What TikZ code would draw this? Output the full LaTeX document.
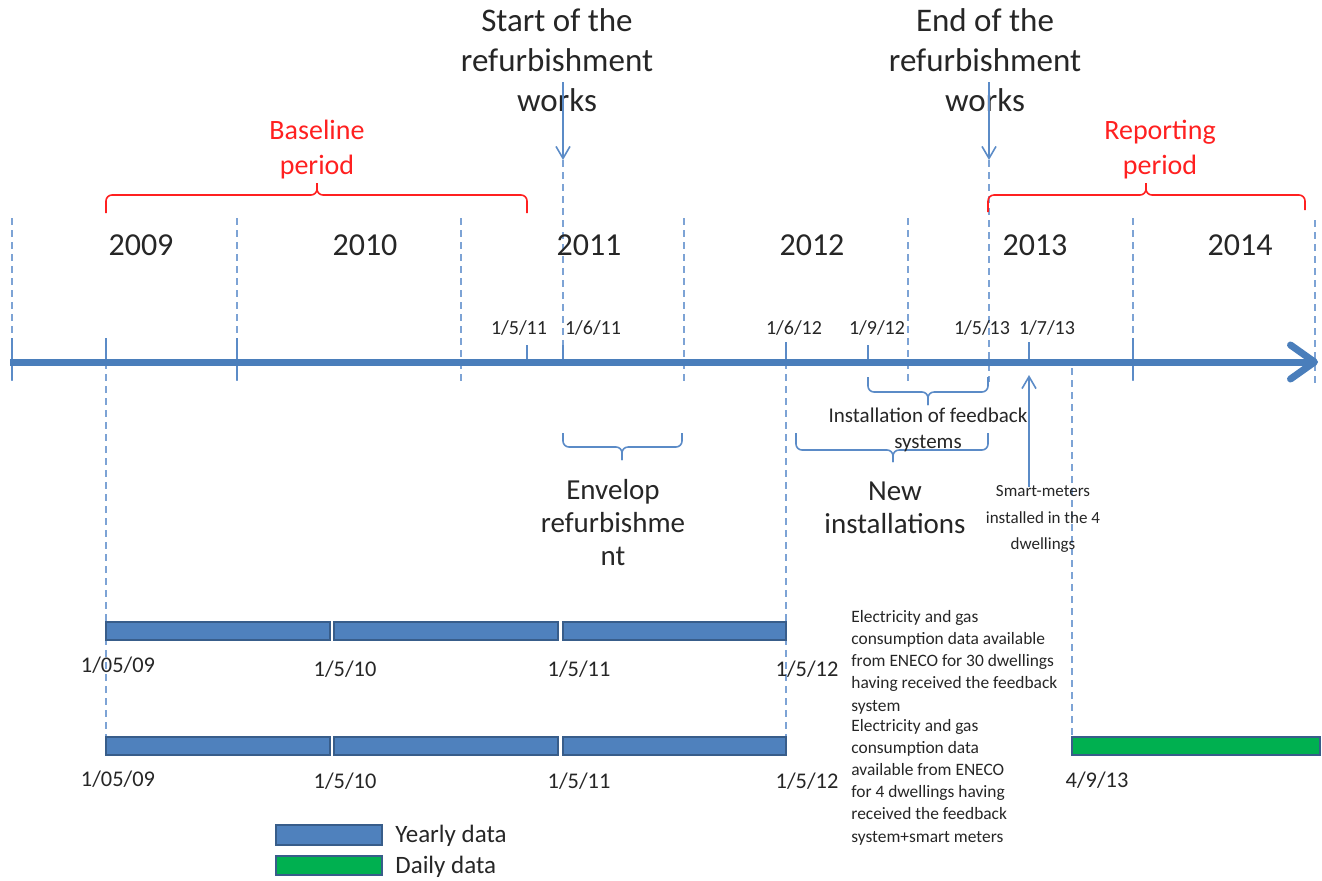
\documentclass[tikz,border=0pt]{standalone}
\usepackage{fontspec}
\setmainfont{Carlito}
\usetikzlibrary{arrows.meta}
\definecolor{axisblue}{HTML}{4A7EBB}
\definecolor{lineblue}{HTML}{5B8BC7}
\definecolor{gridblue}{HTML}{7DA3D5}
\definecolor{barblue}{HTML}{4F81BD}
\definecolor{barborder}{HTML}{385D8A}
\definecolor{bargreen}{HTML}{00B050}
\definecolor{periodred}{HTML}{FF2020}
\definecolor{txt}{HTML}{262626}

\begin{document}
\begin{tikzpicture}[
  x=0.5pt, y=-0.5pt,
  timeaxis/.style={draw=axisblue, line width=3.5pt,
    -{Straight Barb[round, length=12pt, width=17pt]}},
  yearline/.style={draw=gridblue, line width=0.8pt, dash pattern=on 3.5pt off 2.5pt},
  datetick/.style={draw=lineblue, line width=0.8pt},
  pointer/.style={draw=lineblue, line width=0.8pt, -{Straight Barb[length=6pt, width=7pt]}},
  bluebrace/.style={draw=lineblue, line width=0.8pt, rounded corners=3pt},
  redbrace/.style={draw=periodred, line width=0.8pt, rounded corners=3pt},
  yearbar/.style={fill=barblue, draw=barborder, line width=0.6pt},
  daybar/.style={fill=bargreen, draw=barborder, line width=0.6pt},
  event/.style={text=txt, align=center, inner sep=0pt, font=\fontsize{16.5}{20}\selectfont},
  year/.style={text=txt, inner sep=0pt, font=\fontsize{16}{19}\selectfont},
  period/.style={text=periodred, align=center, inner sep=0pt, font=\fontsize{14}{17.5}\selectfont},
  date/.style={text=txt, inner sep=0pt, font=\fontsize{10}{12}\selectfont},
  phase/.style={text=txt, align=center, inner sep=0pt, font=\fontsize{14.5}{16.5}\selectfont},
  remark/.style={text=txt, align=center, inner sep=0pt, font=\fontsize{10.5}{13}\selectfont},
  smartlbl/.style={text=txt, align=center, inner sep=0pt, font=\fontsize{8.5}{13.2}\selectfont},
  bardate/.style={text=txt, inner sep=0pt, font=\fontsize{11.2}{14}\selectfont},
  source/.style={text=txt, align=left, inner sep=0pt, anchor=west, font=\fontsize{8.7}{11.1}\selectfont},
  legendtxt/.style={text=txt, inner sep=0pt, anchor=west, font=\fontsize{12.5}{15}\selectfont}
]
\useasboundingbox (0,0) rectangle (1322,880);

% Year boundaries
\draw[yearline] (12,218) -- (12,382);
\draw[yearline] (237,218) -- (237,382);
\draw[yearline] (461,218) -- (461,382);
\draw[yearline] (684,218) -- (684,382);
\draw[yearline] (908,218) -- (908,382);
\draw[yearline] (1133,218) -- (1133,382);
\draw[yearline] (1315,220) -- (1315,385);
\draw[datetick] (12,338) -- (12,380);
\draw[datetick] (237,338) -- (237,380);
\draw[datetick] (1133,338) -- (1133,380);

% Dashed guides down to the data bars
\draw[yearline] (106,362) -- (106,740);
\draw[yearline] (786,362) -- (786,740);
\draw[yearline] (1072,368) -- (1072,737);

% Event labels and their arrows
\node[event] (startlbl) at (557,60) {Start of the\\refurbishment\\works};
\node[event] (endlbl) at (985,60) {End of the\\refurbishment\\works};
\coordinate (starttail) at (563,82);
\coordinate (starthead) at (563,160);
\coordinate (endtail) at (989,82);
\coordinate (endhead) at (989,160);
\draw[pointer] (starttail) -- (starthead);
\draw[pointer] (endtail) -- (endhead);
\draw[yearline] (starthead) -- (563,345);
\draw[yearline] (endhead) -- (989,382);

% Baseline and reporting periods
\node[period] (baseline) at (317,150) {Baseline\\period};
\node[period] (reporting) at (1160,150) {Reporting\\period};
\draw[redbrace] (106,213) -- (106,195) -- (317,195) -- (317,183);
\draw[redbrace] (317,183) -- (317,195) -- (527,195) -- (527,213);
\draw[redbrace] (988,212) -- (988,195) -- (1146,195) -- (1146,183);
\draw[redbrace] (1146,183) -- (1146,195) -- (1305,195) -- (1305,210);

% Years
\node[year] (y2009) at (141,245) {2009};
\node[year] (y2010) at (365,245) {2010};
\node[year] (y2011) at (589,245) {2011};
\node[year] (y2012) at (812,245) {2012};
\node[year] (y2013) at (1035,245) {2013};
\node[year] (y2014) at (1240,245) {2014};

% Key dates on the time line
\draw[datetick] (106,338) -- (106,362);
\draw[datetick] (527,345) -- (527,362);
\draw[datetick] (563,345) -- (563,362);
\draw[datetick] (786,342) -- (786,362);
\draw[datetick] (868,345) -- (868,362);
\draw[datetick] (1029,342) -- (1029,362);
\node[date] (d1) at (519,328) {1/5/11};
\node[date] (d2) at (593,328) {1/6/11};
\node[date] (d3) at (794,328) {1/6/12};
\node[date] (d4) at (877,328) {1/9/12};
\node[date] (d5) at (982,328) {1/5/13};
\node[date] (d6) at (1047,328) {1/7/13};

% Time line
\coordinate (axisL) at (10,362);
\coordinate (axisR) at (1318,362);
\draw[timeaxis] (axisL) -- (axisR);

% Works phases
\draw[bluebrace] (563,433) -- (563,447) -- (622,447) -- (622,460);
\draw[bluebrace] (622,460) -- (622,447) -- (682,447) -- (682,433);
\draw[bluebrace] (868,377) -- (868,392) -- (928,392) -- (928,405);
\draw[bluebrace] (928,405) -- (928,392) -- (988,392) -- (988,377);
\draw[bluebrace] (796,433) -- (796,450) -- (893,450) -- (893,462);
\draw[bluebrace] (893,462) -- (893,450) -- (988,450) -- (988,433);
\node[phase] (envelop) at (613,523) {Envelop\\refurbishme\\nt};
\node[phase] (newinst) at (895,508) {New\\installations};
\node[remark] (feedback) at (928,430) {Installation of feedback\\systems};
\node[smartlbl] (smart) at (1043,519) {Smart-meters\\installed in the 4\\dwellings};
\coordinate (smarttail) at (1029,487);
\coordinate (smarthead) at (1029,375);
\draw[pointer] (smarttail) -- (smarthead);

% Data availability: 30 dwellings
\draw[yearbar] (106,622) rectangle (330,640);
\draw[yearbar] (334,622) rectangle (558,640);
\draw[yearbar] (563,622) rectangle (786,640);
\node[bardate] (a1) at (118,665) {1/05/09};
\node[bardate] (a2) at (345,669) {1/5/10};
\node[bardate] (a3) at (579,669) {1/5/11};
\node[bardate] (a4) at (807,669) {1/5/12};
\node[source] (src30) at (851,662) {Electricity and gas\\consumption data available\\from ENECO for 30 dwellings\\having received the feedback\\system};

% Data availability: 4 dwellings
\draw[yearbar] (106,737) rectangle (330,755);
\draw[yearbar] (334,737) rectangle (558,755);
\draw[yearbar] (563,737) rectangle (786,755);
\draw[daybar] (1072,737) rectangle (1320,755);
\node[bardate] (b1) at (118,779) {1/05/09};
\node[bardate] (b2) at (345,781) {1/5/10};
\node[bardate] (b3) at (579,781) {1/5/11};
\node[bardate] (b4) at (807,781) {1/5/12};
\node[bardate] (b5) at (1097,780) {4/9/13};
\node[source] (src4) at (851,782) {Electricity and gas\\consumption data\\available from ENECO\\for 4 dwellings having\\received the feedback\\system+smart meters};

% Legend
\draw[yearbar] (276,825) rectangle (382,845);
\node[legendtxt] (yearly) at (395,836) {Yearly data};
\draw[daybar] (276,856) rectangle (382,875);
\node[legendtxt] (daily) at (395,867) {Daily data};

\end{tikzpicture}
\end{document}
